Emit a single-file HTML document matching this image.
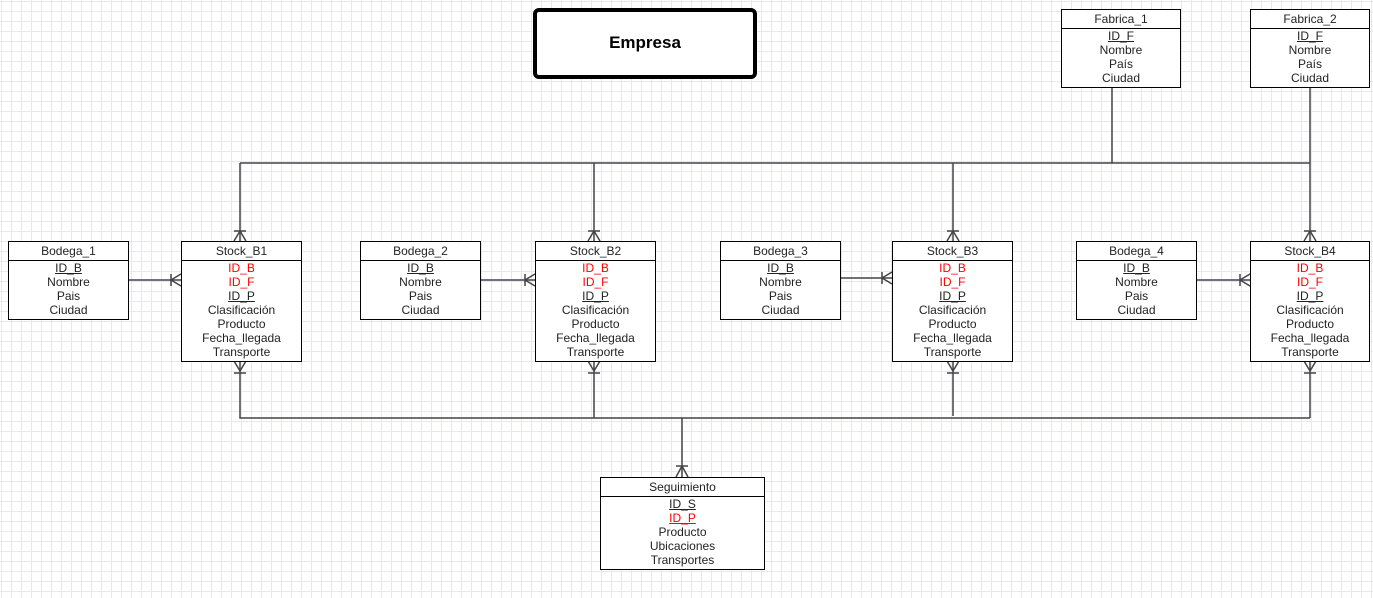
<!DOCTYPE html>
<html><head><meta charset="utf-8"><style>
body{margin:0;width:1373px;height:598px;overflow:hidden;background-color:#fff;
background-image:linear-gradient(to right,#e6e6f8 1px,transparent 1px),linear-gradient(to bottom,#e6e6f8 1px,transparent 1px);
background-size:10px 10px;background-position:1px 1px;font-family:"Liberation Sans",Arial,sans-serif;position:relative}
.e{position:absolute;border:1px solid #000;background:#fff;box-sizing:border-box;font-size:12px;text-align:center;color:#222}
.e .h{height:18px;line-height:18px;border-bottom:1px solid #000}
.e .b{padding-top:0px;line-height:14px}
.r{color:#f00}
u{text-decoration:underline}
.emp{position:absolute;left:533px;top:8px;width:224px;height:71px;border:4.5px solid #000;border-radius:6px;box-sizing:border-box;background:#fff;font-weight:bold;font-size:17px;text-align:center;line-height:62px}
svg{position:absolute;left:0;top:0}
</style></head><body>
<svg width="1373" height="598" stroke="#444" stroke-width="1.5" fill="none">
<path d="M240 163H1310M1112 87V163M1310 87V241M240 163V241M594 163V241M953 163V241"/>
<path d="M240 361V418H1310M1310 361V418M594 361V418M953 361V416M682 418V477"/>
<path d="M128 280H181M480 280H535M840 278H892M1196 280H1250"/>
<path d="M234 231H246M240 231L234 241M240 231L246 241"/>
<path d="M588 231H600M594 231L588 241M594 231L600 241"/>
<path d="M947 231H959M953 231L947 241M953 231L959 241"/>
<path d="M1304 231H1316M1310 231L1304 241M1310 231L1316 241"/>
<path d="M234 373H246M240 371L234 361M240 371L246 361"/>
<path d="M588 373H600M594 371L588 361M594 371L600 361"/>
<path d="M947 373H959M953 371L947 361M953 371L959 361"/>
<path d="M1304 373H1316M1310 371L1304 361M1310 371L1316 361"/>
<path d="M171 274V286M171 280L181 274M171 280L181 286"/>
<path d="M525 274V286M525 280L535 274M525 280L535 286"/>
<path d="M882 272V284M882 278L892 272M882 278L892 284"/>
<path d="M1240 274V286M1240 280L1250 274M1240 280L1250 286"/>
<path d="M676 466H688M682 466L676 477M682 466L688 477"/>
</svg>
<div class="emp">Empresa</div>

<div class="e" style="left:1061px;top:9px;width:120px;height:79px"><div class="h">Fabrica_1</div><div class="b"><u>ID_F</u><br>Nombre<br>País<br>Ciudad</div></div>
<div class="e" style="left:1250px;top:9px;width:120px;height:79px"><div class="h">Fabrica_2</div><div class="b"><u>ID_F</u><br>Nombre<br>País<br>Ciudad</div></div>

<div class="e" style="left:8px;top:241px;width:121px;height:79px"><div class="h">Bodega_1</div><div class="b"><u>ID_B</u><br>Nombre<br>Pais<br>Ciudad</div></div>
<div class="e" style="left:360px;top:241px;width:121px;height:79px"><div class="h">Bodega_2</div><div class="b"><u>ID_B</u><br>Nombre<br>Pais<br>Ciudad</div></div>
<div class="e" style="left:720px;top:241px;width:121px;height:79px"><div class="h">Bodega_3</div><div class="b"><u>ID_B</u><br>Nombre<br>Pais<br>Ciudad</div></div>
<div class="e" style="left:1076px;top:241px;width:121px;height:79px"><div class="h">Bodega_4</div><div class="b"><u>ID_B</u><br>Nombre<br>Pais<br>Ciudad</div></div>

<div class="e" style="left:181px;top:241px;width:121px;height:121px"><div class="h">Stock_B1</div><div class="b"><span class="r">ID_B</span><br><span class="r">ID_F</span><br><u>ID_P</u><br>Clasificación<br>Producto<br>Fecha_llegada<br>Transporte</div></div>
<div class="e" style="left:535px;top:241px;width:121px;height:121px"><div class="h">Stock_B2</div><div class="b"><span class="r">ID_B</span><br><span class="r">ID_F</span><br><u>ID_P</u><br>Clasificación<br>Producto<br>Fecha_llegada<br>Transporte</div></div>
<div class="e" style="left:892px;top:241px;width:121px;height:121px"><div class="h">Stock_B3</div><div class="b"><span class="r">ID_B</span><br><span class="r">ID_F</span><br><u>ID_P</u><br>Clasificación<br>Producto<br>Fecha_llegada<br>Transporte</div></div>
<div class="e" style="left:1250px;top:241px;width:120px;height:121px"><div class="h">Stock_B4</div><div class="b"><span class="r">ID_B</span><br><span class="r">ID_F</span><br><u>ID_P</u><br>Clasificación<br>Producto<br>Fecha_llegada<br>Transporte</div></div>

<div class="e" style="left:600px;top:477px;width:165px;height:93px"><div class="h">Seguimiento</div><div class="b"><u>ID_S</u><br><span class="r"><u>ID_P</u></span><br>Producto<br>Ubicaciones<br>Transportes</div></div>
</body></html>
